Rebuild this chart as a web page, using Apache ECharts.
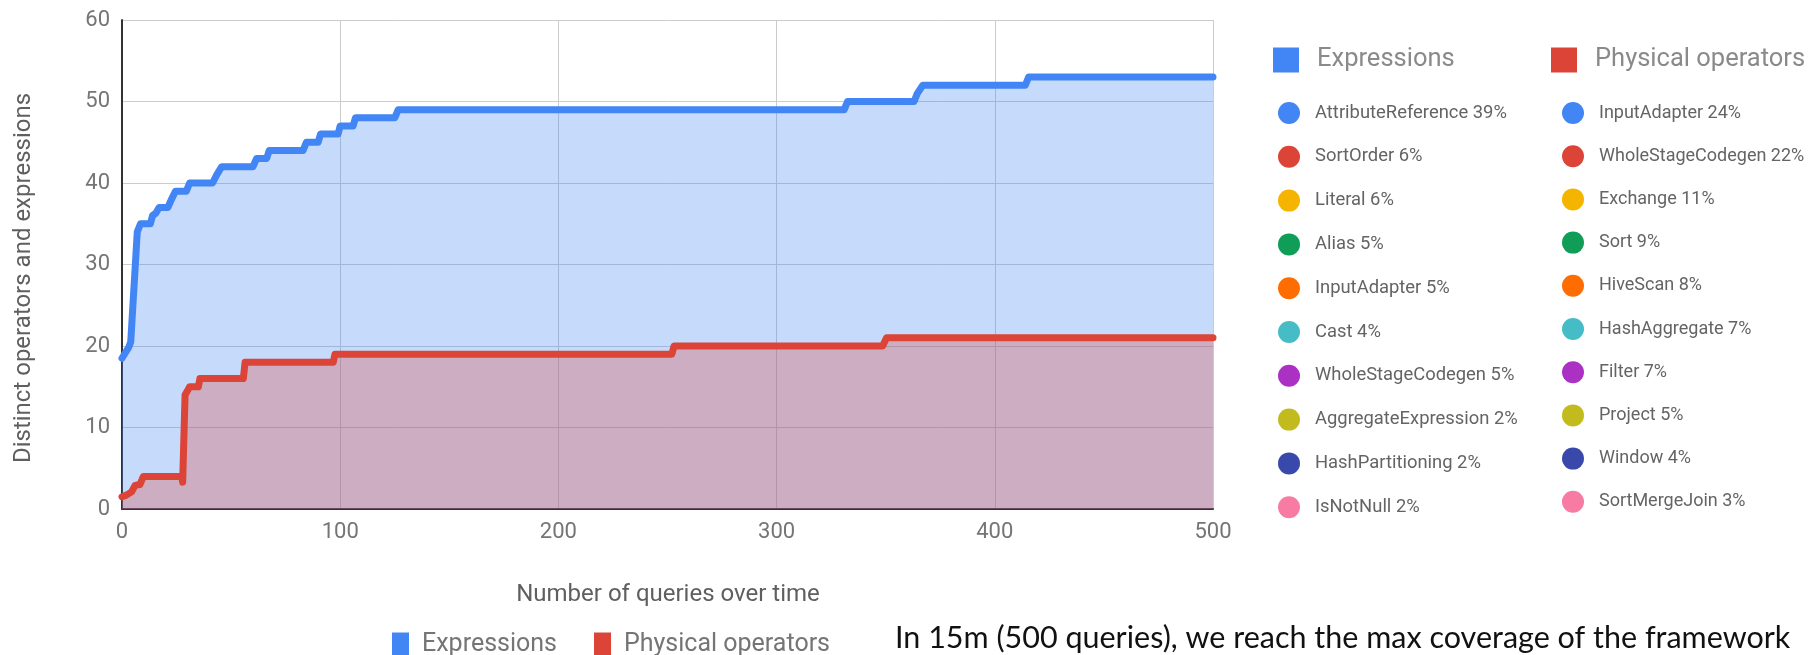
<!DOCTYPE html>
<html><head><meta charset="utf-8">
<script src="https://cdn.jsdelivr.net/npm/echarts@6/dist/echarts.min.js"></script>
<style>html,body{margin:0;padding:0;background:#fff}#c{width:1812px;height:655px}</style>
</head><body><div id="c"></div>
<script>
// ---- data ----
const seriesNames = ['Expressions', 'Physical operators'];
const exprX = [0, 3, 4, 5, 6, 7, 8.5, 13, 14, 15.5, 17, 21, 22.7, 24.5, 29.5, 31, 41.5, 43.4, 45.7, 60, 61.7, 66.3, 67.5, 83, 84.5, 89.9, 91, 99, 100, 105.9, 107, 125, 126.6, 331, 332.5, 363, 364.5, 367, 414, 415.5, 500];
const exprY = [18.5, 19.8, 20.5, 25, 29.5, 34, 35, 35, 36, 36.3, 37, 37, 38, 39, 39, 40, 40, 41, 42, 42, 43, 43, 44, 44, 45, 45, 46, 46, 47, 47, 48, 48, 49, 49, 50, 50, 51, 52, 52, 53, 53];
const physX = [0, 2, 4.4, 6, 8.2, 9.8, 27.4, 27.8, 28.9, 30, 31, 35, 35.7, 55.6, 56.4, 96.8, 97.6, 252, 253, 348.6, 350.4, 500];
const physY = [1.5, 1.7, 2.1, 2.9, 3, 4, 4, 3.3, 14, 14.5, 15, 15, 16, 16, 18, 18, 19, 19, 20, 20, 21, 21];
const exprParts = ['AttributeReference', 'SortOrder', 'Literal', 'Alias', 'InputAdapter', 'Cast', 'WholeStageCodegen', 'AggregateExpression', 'HashPartitioning', 'IsNotNull'];
const exprPct = [39, 6, 6, 5, 5, 4, 5, 2, 2, 2];
const physParts = ['InputAdapter', 'WholeStageCodegen', 'Exchange', 'Sort', 'HiveScan', 'HashAggregate', 'Filter', 'Project', 'Window', 'SortMergeJoin'];
const physPct = [24, 22, 11, 9, 8, 7, 7, 5, 4, 3];
const yTitle = 'Distinct operators and expressions';
const xTitle = 'Number of queries over time';
const caption = 'In 15m (500 queries), we reach the max coverage of the framework';

// ---- styles ----
const lineColors = ['#4285f4', '#db4437'];
const palette = ['#4285f4', '#db4437', '#f4b400', '#0f9d58', '#ff6d00', '#46bdc6', '#ab30c4', '#c2bb1e', '#3949ab', '#f77ba3'];
const FONT = 'Roboto';

const zip = (xs, ys) => xs.map((x, i) => [x, ys[i]]);

function seriesLegend(idx, left, top, w, h, fs, color, pad) {
  return {
    show: true, orient: 'horizontal', left: left, top: top, padding: 0,
    itemWidth: w, itemHeight: h, selectedMode: false,
    data: [{ name: seriesNames[idx], icon: 'rect', itemStyle: { color: lineColors[idx], borderWidth: 0 } }],
    textStyle: { fontFamily: FONT, fontSize: fs, color: color, padding: [0, 0, 0, pad] }
  };
}
function partsLegend(names, pcts, left, top, gap, fs) {
  return {
    show: true, orient: 'vertical', left: left, top: top, padding: 0,
    itemWidth: 22, itemHeight: 22, itemGap: gap, selectedMode: false,
    data: names.map((n, i) => ({ name: n, icon: 'circle', itemStyle: { color: palette[i], borderWidth: 0 } })),
    formatter: (name) => name + ' ' + pcts[names.indexOf(name)] + '%',
    textStyle: { fontFamily: FONT, fontSize: fs, color: '#646464', padding: [0, 0, 0, 10], lineHeight: 22 }
  };
}

const chart = echarts.init(document.getElementById('c'), null, { renderer: 'canvas' });
chart.setOption({
  animation: false,
  backgroundColor: '#ffffff',
  grid: { left: 122, right: 599, top: 20, bottom: 146, containLabel: false, outerBoundsMode: 'none' },
  xAxis: {
    type: 'value', min: 0, max: 500, interval: 100,
    axisLine: { show: true, onZero: false, lineStyle: { color: '#333', width: 2 } },
    axisTick: { show: false },
    axisLabel: { fontFamily: FONT, fontSize: 22, color: '#757575', margin: 12 },
    splitLine: { show: true, lineStyle: { color: '#cccccc', width: 1 } }
  },
  yAxis: {
    type: 'value', min: 0, max: 60, interval: 10,
    axisLine: { show: true, onZero: false, lineStyle: { color: '#333', width: 2 } },
    axisTick: { show: false },
    axisLabel: { fontFamily: FONT, fontSize: 22, color: '#757575', margin: 12 },
    splitLine: { show: true, lineStyle: { color: '#cccccc', width: 1 } }
  },
  legend: [
    seriesLegend(0, 1273, 47, 26, 25, 25.5, '#8a8a8a', 13),
    seriesLegend(1, 1551, 47, 26, 25, 25.5, '#8a8a8a', 13),
    seriesLegend(0, 392, 632, 17, 24, 25, '#757575', 8),
    seriesLegend(1, 594, 632, 17, 24, 25, '#757575', 8),
    partsLegend(exprParts, exprPct, 1278, 102, 21.8, 18.4),
    partsLegend(physParts, physPct, 1562, 102, 21.2, 18)
  ],
  series: [
    {
      name: seriesNames[0], type: 'line', data: zip(exprX, exprY), showSymbol: false, symbol: 'none',
      color: lineColors[0], z: 3,
      lineStyle: { color: lineColors[0], width: 7, cap: 'round', join: 'round' },
      areaStyle: { color: lineColors[0], opacity: 0.3 }
    },
    {
      name: seriesNames[1], type: 'line', data: zip(physX, physY), showSymbol: false, symbol: 'none',
      color: lineColors[1], z: 4,
      lineStyle: { color: lineColors[1], width: 7, cap: 'round', join: 'round' },
      areaStyle: { color: lineColors[1], opacity: 0.3 }
    },
    {
      name: 'exprShare', type: 'pie', radius: [0, 0], center: [1700, 600], silent: true,
      label: { show: false }, labelLine: { show: false },
      data: exprParts.map((n, i) => ({ name: n, value: exprPct[i], itemStyle: { color: palette[i] } }))
    },
    {
      name: 'physShare', type: 'pie', radius: [0, 0], center: [1700, 600], silent: true,
      label: { show: false }, labelLine: { show: false },
      data: physParts.map((n, i) => ({ name: n, value: physPct[i], itemStyle: { color: palette[i] } }))
    }
  ],
  graphic: [
    { type: 'text', x: 24, y: 278, rotation: Math.PI / 2,
      style: { text: yTitle, font: '24px Roboto', fill: '#5f5f5f', align: 'center', verticalAlign: 'middle' } },
    { type: 'text', x: 668, y: 595,
      style: { text: xTitle, font: '24px Roboto', fill: '#5f5f5f', align: 'center', verticalAlign: 'middle' } },
    { type: 'text', x: 895, y: 638,
      style: { text: caption, font: '30.5px Lato', fill: '#111111', align: 'left', verticalAlign: 'middle' } }
  ]
});
</script></body></html>
